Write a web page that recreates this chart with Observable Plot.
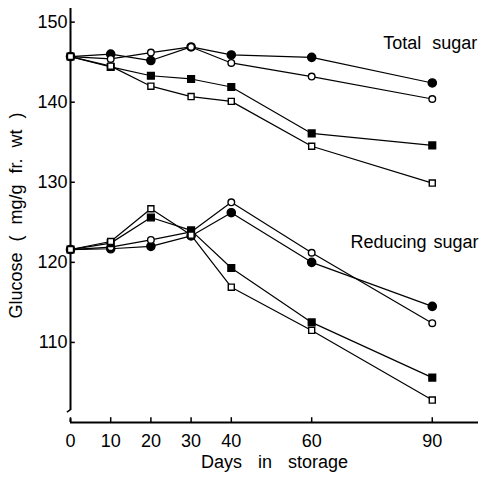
<!DOCTYPE html>
<html><head><meta charset="utf-8">
<script src="https://cdn.jsdelivr.net/npm/d3@7"></script>
<script src="https://cdn.jsdelivr.net/npm/@observablehq/plot@0.6"></script>
<style>
body{margin:0;background:#fff}
#chart svg{font-family:"Liberation Sans",Arial,sans-serif}
</style>
</head><body><div id="chart"></div>
<script>
// Data
const days = [0, 10, 20, 30, 40, 60, 90];
const xTicks = [0, 10, 20, 30, 40, 60, 90];
const yTicks = [110, 120, 130, 140, 150];

// Total sugar
const totalFilledCircle = [145.7, 146.0, 145.2, 146.9, 145.9, 145.6, 142.4];
const totalOpenCircle   = [145.7, 145.4, 146.2, 146.9, 144.9, 143.2, 140.4];
const totalFilledSquare = [145.7, 144.4, 143.3, 142.9, 141.9, 136.1, 134.6];
const totalOpenSquare   = [145.7, 144.5, 142.0, 140.7, 140.1, 134.5, 129.9];

// Reducing sugar
const redFilledCircle = [121.6, 121.7, 122.0, 123.3, 126.2, 120.0, 114.5];
const redOpenCircle   = [121.6, 121.9, 122.8, 123.8, 127.5, 121.2, 112.4];
const redFilledSquare = [121.6, 122.4, 125.6, 124.0, 119.3, 112.5, 105.6];
const redOpenSquare   = [121.6, 122.6, 126.7, 123.4, 116.9, 111.5, 102.8];

const seriesLabels = ["Total sugar", "Reducing sugar"];
const labelX = [101.2, 101.5];
const labelY = [147.3, 122.5];
const yTitle = "Glucose ( mg/g fr. wt )";
const xTitle = "Days in storage";

// Build tidy rows
const groups = [
  {sugar: "total", filledCircle: totalFilledCircle, openCircle: totalOpenCircle, filledSquare: totalFilledSquare, openSquare: totalOpenSquare},
  {sugar: "reducing", filledCircle: redFilledCircle, openCircle: redOpenCircle, filledSquare: redFilledSquare, openSquare: redOpenSquare}
];
const kinds = ["filledCircle", "openCircle", "filledSquare", "openSquare"];
const rows = [];
for (const g of groups) for (const k of kinds) g[k].forEach((v, i) => rows.push({sugar: g.sugar, kind: k, key: g.sugar + k, day: days[i], value: v}));

const style = {
  filledCircle: {symbol: "circle", fill: "black", r: 4.1},
  openCircle:   {symbol: "circle", fill: "white", r: 3.3},
  filledSquare: {symbol: "square", fill: "black", r: 3.8},
  openSquare:   {symbol: "square", fill: "white", r: 3.4}
};
const labels = seriesLabels.map((t, i) => ({text: t, x: labelX[i], y: labelY[i]}));

const chart = Plot.plot({
  width: 483, height: 483,
  marginLeft: 70, marginRight: 5, marginTop: 8, marginBottom: 61,
  x: {domain: [0, 101.5]},
  y: {domain: [100, 151.7]},
  style: {fontSize: "18px", fontFamily: "'Liberation Sans', Arial, sans-serif", color: "black", background: "white"},
  marks: [
    Plot.axisX({ticks: xTicks, tickSize: 0, tickPadding: 12, label: null, fontSize: 18}),
    Plot.axisY({ticks: yTicks, tickSize: 0, tickPadding: 3, label: null, fontSize: 18}),
    Plot.ruleY([100], {x1: 0, x2: 101.5, strokeWidth: 2}),
    Plot.ruleX([0], {y1: 101.5, y2: 151.7, strokeWidth: 2}),
    Plot.ruleX([0], {y1: 100, y2: 100.45, strokeWidth: 2}),
    Plot.link([0], {x1: -0.9, y1: 101.3, x2: 0, y2: 101.6, strokeWidth: 1.5}),
    Plot.ruleX(xTicks, {x: d => d, y1: 100, y2: 100.6, strokeWidth: 1.5}),
    Plot.ruleY(yTicks, {y: d => d, x1: 0, x2: 1.2, strokeWidth: 1.5}),
    Plot.line(rows, {x: "day", y: "value", z: "key", stroke: "black", strokeWidth: 1.2}),
    ...kinds.map(k => Plot.dot(rows.filter(d => d.kind === k), {
      x: "day", y: "value", symbol: style[k].symbol, r: style[k].r,
      fill: style[k].fill, stroke: "black", strokeWidth: 1.4
    })),
    Plot.text(labels, {x: "x", y: "y", text: "text", textAnchor: "end", fontSize: 18}),
    Plot.text([yTitle], {frameAnchor: "left", textAnchor: "middle", rotate: -90, dx: -54, fontSize: 18}),
    Plot.text([xTitle], {frameAnchor: "bottom", textAnchor: "middle", dy: 45, fontSize: 18})
  ]
});
const spacing = {"Total sugar": "6px", "Reducing sugar": "2px", [yTitle]: "6px", [xTitle]: "11px"};
d3.select(chart).selectAll("text").each(function() {
  const s = spacing[this.textContent];
  if (s) this.style.wordSpacing = s;
});
document.getElementById("chart").appendChild(chart);
</script>
</body></html>
